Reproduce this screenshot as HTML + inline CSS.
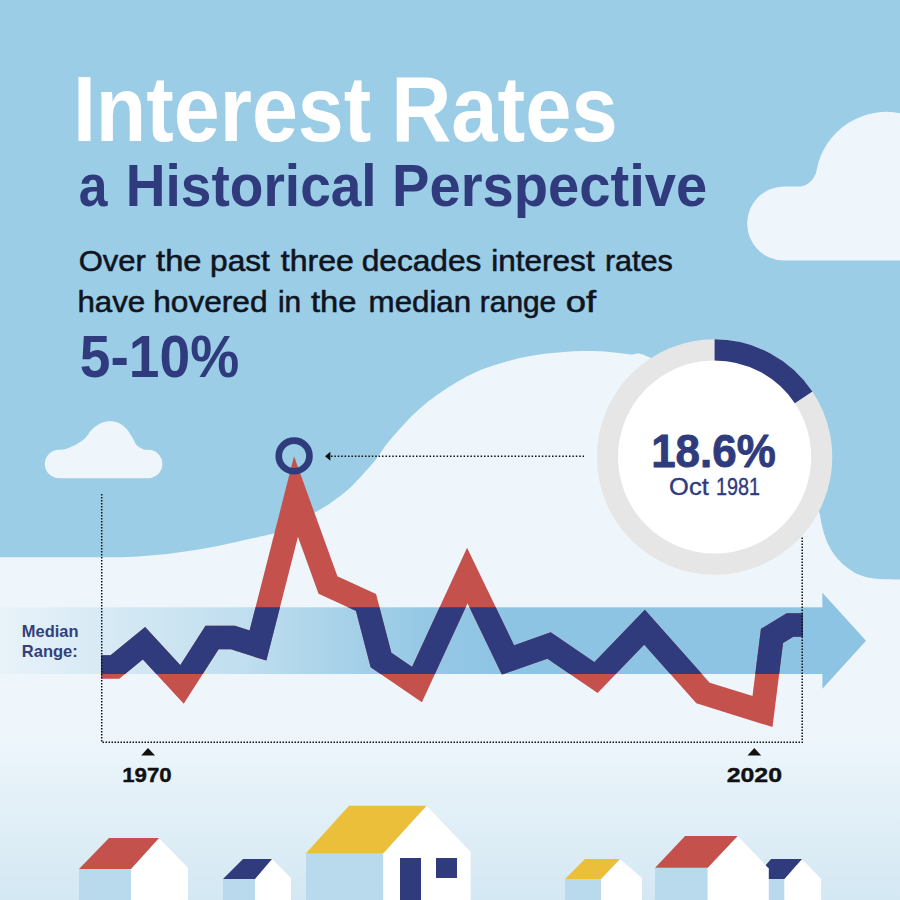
<!DOCTYPE html>
<html lang="en">
<head>
<meta charset="utf-8">
<title>Interest Rates - a Historical Perspective</title>
<style>
  html,body{margin:0;padding:0;background:#9bcde6;}
  body{width:900px;height:900px;overflow:hidden;font-family:"Liberation Sans",sans-serif;}
  svg{display:block;}
  text{font-family:"Liberation Sans",sans-serif;}
</style>
</head>
<body>
<svg width="900" height="900" viewBox="0 0 900 900">
  <defs>
    <linearGradient id="ground" gradientUnits="userSpaceOnUse" x1="0" y1="730" x2="0" y2="900">
      <stop offset="0" stop-color="#eef6fb"/>
      <stop offset="1" stop-color="#d4e8f3"/>
    </linearGradient>
    <linearGradient id="band" gradientUnits="userSpaceOnUse" x1="0" y1="0" x2="823" y2="0">
      <stop offset="0" stop-color="#e8f2f9"/>
      <stop offset="0.12" stop-color="#d8eaf5"/>
      <stop offset="0.30" stop-color="#bfdeef"/>
      <stop offset="0.42" stop-color="#a6d1e9"/>
      <stop offset="0.52" stop-color="#95c8e5"/>
      <stop offset="0.62" stop-color="#8dc4e4"/>
      <stop offset="1" stop-color="#8dc4e4"/>
    </linearGradient>
    <clipPath id="bandclip"><rect x="0" y="607.3" width="900" height="66.7"/></clipPath>
  </defs>

  <!-- sky -->
  <rect width="900" height="900" fill="#9bcde6"/>

  <!-- big cloud right -->
  <path d="M784.2 260.6 A37.05 37.05 0 0 1 784.2 186.5 L800 186.5 C809 186.5 815.5 177 816.5 170.8 A71 71 0 0 1 905 114.3 L905 260.6 Z" fill="#eef6fb"/>

  <!-- small cloud left -->
  <path d="M59 478.2 A14.2 14.2 0 0 1 59 449.8 C60.1 449.6 62.7 449.8 65.6 448.9 C68.5 448.0 73.0 446.2 76.2 444.4 C79.5 442.6 82.4 440.7 85.1 438.2 C87.8 435.7 89.5 431.8 92.2 429.3 C94.9 426.8 98.1 424.4 101.1 423.1 C104.1 421.8 107.0 421.3 110.0 421.3 C113.0 421.3 116.1 421.8 118.9 423.1 C121.7 424.4 124.7 426.9 126.9 429.3 C129.1 431.7 130.6 434.6 132.2 437.3 C133.8 440.0 134.8 443.3 136.7 445.3 C138.6 447.3 141.9 448.6 143.8 449.4 C145.7 450.1 147.5 449.7 148.2 449.8 A14.2 14.2 0 0 1 148.2 478.2 Z" fill="#eef6fb"/>

  <!-- hill / ground -->
  <path d="M0 557.3 C16.7 557.3 77.8 557.4 100.0 557.3 C122.2 557.2 121.8 557.2 133.0 556.7 C144.2 556.2 155.8 555.2 167.0 554.0 C178.2 552.8 189.0 551.2 200.0 549.3 C211.0 547.4 221.8 545.1 233.0 542.7 C244.2 540.3 259.7 536.8 267.0 535.0 C274.3 533.2 268.5 535.8 277.0 531.7 C285.5 527.7 308.2 516.1 318.0 510.7 C327.8 505.3 330.2 503.4 336.0 499.1 C341.8 494.8 347.2 490.5 353.0 484.9 C358.8 479.3 366.8 470.1 371.0 465.3 C375.2 460.6 375.0 460.4 378.0 456.4 C381.0 452.4 384.2 447.2 389.0 441.3 C393.8 435.4 401.2 427.0 407.0 420.9 C412.8 414.8 418.5 409.5 424.0 404.9 C429.5 400.3 434.4 397.0 440.0 393.1 C445.6 389.2 451.9 385.1 457.8 381.6 C463.7 378.1 469.7 375.0 475.6 372.3 C481.5 369.6 487.4 367.6 493.3 365.6 C499.2 363.6 505.2 361.8 511.1 360.2 C517.0 358.6 523.0 357.4 528.9 356.3 C534.8 355.2 540.8 354.3 546.7 353.6 C552.6 352.9 558.5 352.3 564.4 351.9 C570.3 351.5 576.3 351.1 582.2 351.0 C588.1 350.9 595.4 351.0 600.0 351.2 C604.6 351.4 605.0 351.5 610.0 352.0 C615.0 352.5 623.3 353.5 630.0 354.4 C636.7 355.3 635.0 350.0 650.0 357.6 C665.0 365.2 698.3 384.6 720.0 400.0 C741.7 415.4 764.7 434.2 780.0 450.0 C795.3 465.8 805.5 484.6 812.0 495.0 C818.5 505.4 817.8 508.1 819.3 512.7 C820.8 517.3 820.5 519.3 821.3 522.7 C822.1 526.1 822.9 529.8 824.0 533.3 C825.1 536.8 826.5 540.7 828.0 544.0 C829.5 547.3 831.3 550.4 833.3 553.3 C835.3 556.2 837.8 559.0 840.0 561.3 C842.2 563.6 844.2 565.4 846.7 567.3 C849.2 569.2 852.0 571.2 854.7 572.7 C857.4 574.2 859.6 575.0 862.7 576.0 C865.8 577.0 869.3 577.9 873.3 578.4 C877.3 578.9 882.2 579.1 886.7 579.3 C891.2 579.5 897.8 579.4 900.0 579.4 L900 900 L0 900 Z" fill="url(#ground)"/>

  <!-- median band + arrow -->
  <rect x="0" y="607.3" width="823" height="66.7" fill="url(#band)"/>
  <path d="M822.4 592.7 L866 640.7 L822.4 688.7 Z" fill="#8dc4e4"/>

  <!-- chart line -->
  <g fill="none" stroke-width="23.7" stroke-linejoin="miter" stroke-miterlimit="10">
    <polyline id="ln" stroke="#c5514d" points="101,667 115,667 144,643.2 182,684.5 212,637.5 233,637.5 258,645.5 296,496.6 328,585 366,602.5 381,660 417,684.5 467.3,575.5 508,660 549,645.5 596,677.5 644.5,627.2 703,693 762.5,711.5 772,636 790,625 803,625"/>
    <polyline stroke="#2f3b7c" clip-path="url(#bandclip)" points="101,667 115,667 144,643.2 182,684.5 212,637.5 233,637.5 258,645.5 296,496.6 328,585 366,602.5 381,660 417,684.5 467.3,575.5 508,660 549,645.5 596,677.5 644.5,627.2 703,693 762.5,711.5 772,636 790,625 803,625"/>
  </g>

  <!-- dotted frame -->
  <g fill="none" stroke="#111" stroke-width="1.5" stroke-dasharray="1.5 1.5">
    <path d="M101.7 494 L101.7 742.2 L802.2 742.2 L802.2 537"/>
    <path d="M331 456.2 L584 456.2" stroke-dasharray="1.5 1.9"/>
  </g>
  <path d="M325 456.2 L330.4 451.8 L330.4 460.7 Z" fill="#111"/>

  <!-- peak marker -->
  <circle cx="294.1" cy="455.9" r="15.35" fill="none" stroke="#2f3b7c" stroke-width="6.7"/>

  <!-- year markers -->
  <path d="M148 748 L155 755.4 L141.2 755.4 Z" fill="#111"/>
  <path d="M754.3 748 L761.2 755.4 L747.5 755.4 Z" fill="#111"/>

  <!-- donut -->
  <circle cx="714.6" cy="457.0" r="117.7" fill="#e6e6e7"/>
  <circle cx="714.6" cy="457.0" r="96.6" fill="#ffffff"/>
  <path d="M714.6 349.85 A107.15 107.15 0 0 1 803.64 397.39" fill="none" stroke="#2f3b7c" stroke-width="21.1"/>

  <!-- headings -->

  <!-- median label -->

  <!-- text -->
  <g id="txt">
  <text y="141.0" font-size="92" font-weight="bold" fill="#ffffff"><tspan x="72.91" textLength="298.36" lengthAdjust="spacingAndGlyphs">Interest</tspan> <tspan x="391.27" textLength="226.59" lengthAdjust="spacingAndGlyphs">Rates</tspan></text>
  <text y="205.5" font-size="60" font-weight="bold" fill="#2f3b7c"><tspan x="78.74" textLength="28.72" lengthAdjust="spacingAndGlyphs">a</tspan> <tspan x="125.83" textLength="250.84" lengthAdjust="spacingAndGlyphs">Historical</tspan> <tspan x="391.96" textLength="315.33" lengthAdjust="spacingAndGlyphs">Perspective</tspan></text>
  <text y="270.5" font-size="29" fill="#10141f" stroke="#10141f" stroke-width="0.55" stroke-linejoin="round"><tspan x="78.73" textLength="67.20" lengthAdjust="spacingAndGlyphs">Over</tspan> <tspan x="156.10" textLength="45.37" lengthAdjust="spacingAndGlyphs">the</tspan> <tspan x="210.11" textLength="59.75" lengthAdjust="spacingAndGlyphs">past</tspan> <tspan x="280.80" textLength="72.95" lengthAdjust="spacingAndGlyphs">three</tspan> <tspan x="361.71" textLength="119.74" lengthAdjust="spacingAndGlyphs">decades</tspan> <tspan x="491.21" textLength="103.45" lengthAdjust="spacingAndGlyphs">interest</tspan> <tspan x="604.95" textLength="67.98" lengthAdjust="spacingAndGlyphs">rates</tspan></text>
  <text y="312.1" font-size="29" fill="#10141f" stroke="#10141f" stroke-width="0.55" stroke-linejoin="round"><tspan x="77.44" textLength="67.77" lengthAdjust="spacingAndGlyphs">have</tspan> <tspan x="153.22" textLength="114.31" lengthAdjust="spacingAndGlyphs">hovered</tspan> <tspan x="277.97" textLength="23.19" lengthAdjust="spacingAndGlyphs">in</tspan> <tspan x="311.00" textLength="45.47" lengthAdjust="spacingAndGlyphs">the</tspan> <tspan x="368.62" textLength="102.49" lengthAdjust="spacingAndGlyphs">median</tspan> <tspan x="479.87" textLength="76.29" lengthAdjust="spacingAndGlyphs">range</tspan> <tspan x="565.74" textLength="30.37" lengthAdjust="spacingAndGlyphs">of</tspan></text>
  <text y="377.0" font-size="59" font-weight="bold" fill="#2f3b7c"><tspan x="79.77" textLength="159.40" lengthAdjust="spacingAndGlyphs">5-10%</tspan></text>
  <text y="467.3" font-size="47" font-weight="bold" fill="#2f3b7c" stroke="#2f3b7c" stroke-width="0.9" stroke-linejoin="round"><tspan x="651.13" textLength="124.61" lengthAdjust="spacingAndGlyphs">18.6%</tspan></text>
  <text y="494.7" font-size="24" fill="#2f3b7c" stroke="#2f3b7c" stroke-width="0.35" stroke-linejoin="round"><tspan x="669.14" textLength="39.61" lengthAdjust="spacingAndGlyphs">Oct</tspan> <tspan x="716.08" textLength="44.01" lengthAdjust="spacingAndGlyphs">1981</tspan></text>
  <text y="781.8" font-size="20.8" font-weight="bold" fill="#111111" stroke="#111111" stroke-width="0.4" stroke-linejoin="round"><tspan x="122.23" textLength="49.47" lengthAdjust="spacingAndGlyphs">1970</tspan></text>
  <text y="781.8" font-size="20.8" font-weight="bold" fill="#111111" stroke="#111111" stroke-width="0.4" stroke-linejoin="round"><tspan x="726.70" textLength="55.28" lengthAdjust="spacingAndGlyphs">2020</tspan></text>
  <text y="636.7" font-size="16.7" font-weight="bold" fill="#33407a"><tspan x="21.81" textLength="56.68" lengthAdjust="spacingAndGlyphs">Median</tspan></text>
  <text y="656.5" font-size="16.7" font-weight="bold" fill="#33407a"><tspan x="21.81" textLength="56.03" lengthAdjust="spacingAndGlyphs">Range:</tspan></text>
  </g>

  <!-- houses -->
  <g id="houses">
    <!-- house 1 red -->
    <path d="M79 869 L131 869 L131 900 L79 900 Z" fill="#b9d9ed"/>
    <path d="M131 869 L159 838 L188 868 L188 900 L131 900 Z" fill="#ffffff"/>
    <path d="M109 838 L159 838 L131 869 L79 869 Z" fill="#c5514d"/>
    <!-- house 2 navy -->
    <path d="M223 879 L255 879 L255 900 L223 900 Z" fill="#b9d9ed"/>
    <path d="M255 879 L272 859 L291 878 L291 900 L255 900 Z" fill="#ffffff"/>
    <path d="M243 859 L272 859 L255 879 L223 879 Z" fill="#2f3b7c"/>
    <!-- house 3 yellow big -->
    <path d="M306 853 L383 853 L383 900 L306 900 Z" fill="#b9d9ed"/>
    <path d="M383.3 853.2 L426.5 805.7 L470.6 851.8 L470.6 900 L383.3 900 Z" fill="#ffffff"/>
    <path d="M349 805.7 L426.5 805.7 L383.3 853.2 L306 853.2 Z" fill="#ebbf3a"/>
    <rect x="400" y="858" width="21" height="42" fill="#2f3b7c"/>
    <rect x="436" y="858" width="21" height="20" fill="#2f3b7c"/>
    <!-- house 4 yellow small -->
    <path d="M565 879 L601 879 L601 900 L565 900 Z" fill="#b9d9ed"/>
    <path d="M601 879 L620 859 L642 878 L642 900 L601 900 Z" fill="#ffffff"/>
    <path d="M585 859 L620 859 L601 879 L565 879 Z" fill="#ebbf3a"/>
    <!-- house 6 navy small (behind 5) -->
    <path d="M768 878.9 L784.4 878.9 L784.4 900 L768 900 Z" fill="#b9d9ed"/>
    <path d="M784.4 878.9 L802 859.1 L821.1 878.9 L821.1 900 L784.4 900 Z" fill="#ffffff"/>
    <path d="M771.1 859.1 L802 859.1 L784.4 878.9 L753.4 878.9 Z" fill="#2f3b7c"/>
    <!-- house 5 red -->
    <path d="M655.1 867.8 L707.7 867.8 L707.7 900 L655.1 900 Z" fill="#b9d9ed"/>
    <path d="M707.7 867.8 L737.7 836 L768.8 868.6 L768.8 900 L707.7 900 Z" fill="#ffffff"/>
    <path d="M685.1 836 L737.7 836 L707.7 867.8 L655.1 867.8 Z" fill="#c5514d"/>
  </g>
</svg>
</body>
</html>
